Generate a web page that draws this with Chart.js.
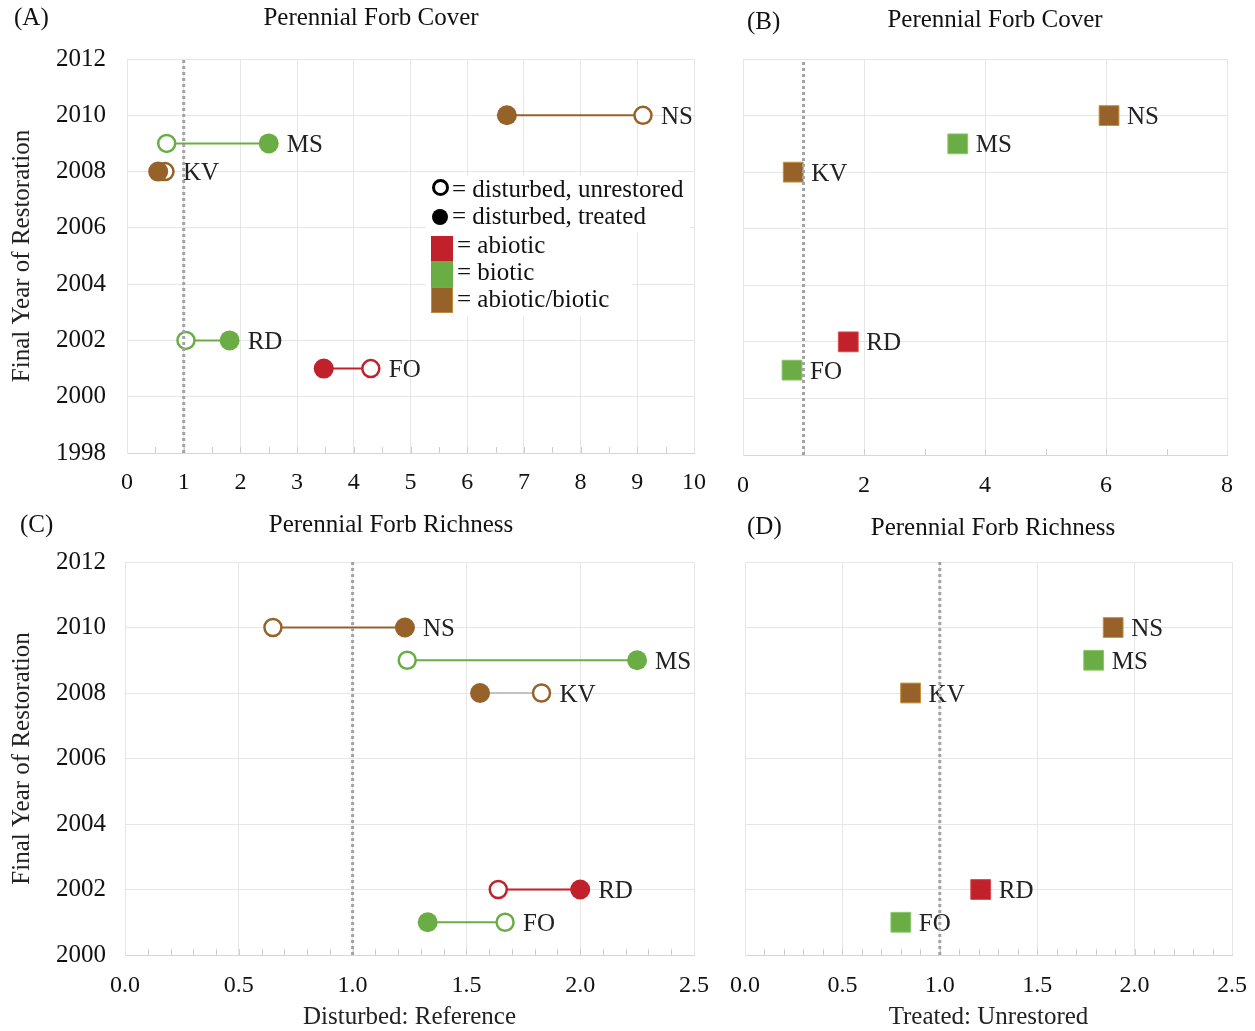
<!DOCTYPE html>
<html>
<head>
<meta charset="utf-8">
<script src="https://cdn.jsdelivr.net/npm/chart.js@4.4.1/dist/chart.umd.min.js"></script>
<style>
  body { margin: 0; background: #fff; }
  #wrap { position: relative; width: 1255px; height: 1031px; font-family: 'Liberation Serif', 'Times New Roman', serif; color: #111; overflow: hidden; }
  canvas { position: absolute; }
  .txt { position: absolute; white-space: nowrap; font-size: 25px; line-height: 26px; height: 26px; }
  .mid { transform: translateX(-50%); }
  .box { position: absolute; background: #fff; }
  .sym { position: absolute; box-sizing: border-box; }
  .leg { position: absolute; white-space: nowrap; font-size: 25px; line-height: 26px; height: 26px; }
</style>
</head>
<body>
<div id="wrap">
  <canvas id="chartA" width="720" height="500" style="left:0;top:0"></canvas>
  <canvas id="chartB" width="535" height="500" style="left:720px;top:0"></canvas>
  <canvas id="chartC" width="720" height="531" style="left:0;top:500px"></canvas>
  <canvas id="chartD" width="535" height="531" style="left:720px;top:500px"></canvas>

  <div class="txt" style="left:14px;top:4px">(A)</div>
  <div class="txt mid" style="left:371px;top:4px">Perennial Forb Cover</div>
  <div class="txt" style="left:747px;top:8px">(B)</div>
  <div class="txt mid" style="left:995px;top:6px">Perennial Forb Cover</div>
  <div class="txt" style="left:20px;top:511px">(C)</div>
  <div class="txt mid" style="left:391px;top:511px">Perennial Forb Richness</div>
  <div class="txt" style="left:747px;top:513px">(D)</div>
  <div class="txt mid" style="left:993px;top:514px">Perennial Forb Richness</div>

  <!-- legend of panel A -->
  <div class="box" style="left:426px;top:176px;width:264px;height:56px"></div>
  <div class="box" style="left:426px;top:232px;width:206px;height:84px"></div>
  <div class="sym" style="left:432px;top:179px;width:17px;height:17px;border:3px solid #000;border-radius:50%"></div>
  <div class="leg" style="left:452px;top:176px">= disturbed, unrestored</div>
  <div class="sym" style="left:432px;top:209px;width:16px;height:16px;background:#000;border-radius:50%"></div>
  <div class="leg" style="left:452px;top:203px">= disturbed, treated</div>
  <div class="sym" style="left:431px;top:236px;width:22px;height:25px;background:#c0212b"></div>
  <div class="leg" style="left:457px;top:232px">= abiotic</div>
  <div class="sym" style="left:431px;top:261px;width:22px;height:26px;background:#6aad45"></div>
  <div class="leg" style="left:457px;top:259px">= biotic</div>
  <div class="sym" style="left:431px;top:287px;width:22px;height:26px;background:#96622a;border:1px solid #c08a3a"></div>
  <div class="leg" style="left:457px;top:286px">= abiotic/biotic</div>
</div>

<script>
// sites and the final year of restoration used as the y position
const sites = ['NS', 'MS', 'KV', 'RD', 'FO'];
const siteYears = [2010, 2009, 2008, 2002, 2001];

// (A) perennial forb cover, disturbed : reference
const coverUnrestored = [9.1, 0.7, 0.67, 1.04, 4.3];
const coverTreated = [6.7, 2.5, 0.55, 1.81, 3.47];
const coverPairGroups = ['abiotic/biotic', 'biotic', 'abiotic/biotic', 'biotic', 'abiotic'];

// (B) perennial forb cover, treated : unrestored
const coverRatio = [6.05, 3.55, 0.83, 1.74, 0.81];
const coverRatioGroups = ['abiotic/biotic', 'biotic', 'abiotic/biotic', 'abiotic', 'biotic'];

// (C) perennial forb richness, disturbed : reference
const richUnrestored = [0.65, 1.24, 1.83, 1.64, 1.67];
const richTreated = [1.23, 2.25, 1.56, 2.0, 1.33];
const richPairGroups = ['abiotic/biotic', 'biotic', 'abiotic/biotic', 'abiotic', 'biotic'];

// (D) perennial forb richness, treated : unrestored
const richRatio = [1.89, 1.79, 0.85, 1.21, 0.8];
const richRatioGroups = ['abiotic/biotic', 'biotic', 'abiotic/biotic', 'abiotic', 'biotic'];

// axes
const yearTicksTop = [1998, 2000, 2002, 2004, 2006, 2008, 2010, 2012];
const yearTicksBottom = [2000, 2002, 2004, 2006, 2008, 2010, 2012];
const xTicksA = [0, 1, 2, 3, 4, 5, 6, 7, 8, 9, 10];
const xTicksB = [0, 2, 4, 6, 8];
const xTicksRich = [0, 0.5, 1, 1.5, 2, 2.5];
const parity = 1; // ratio of 1, dotted line

// styles
const FONT = "'Liberation Serif', 'Times New Roman', serif";
const groupColors = { 'abiotic': '#c0212b', 'biotic': '#6aad45', 'abiotic/biotic': '#96622a' };
const squareEdge = { 'abiotic': '#d8494f', 'biotic': '#8cc46a', 'abiotic/biotic': '#c89038' };
const connectorC = { KV: '#c2c2c2' };

Chart.defaults.font.family = FONT;
Chart.defaults.color = '#111';

const siteLabelPlugin = {
    id: 'siteLabels',
    beforeDatasetsDraw(chart) {
        const ctx = chart.ctx;
        ctx.save();
        ctx.font = '25px ' + FONT;
        ctx.fillStyle = '#222';
        ctx.textBaseline = 'middle';
        chart.data.datasets.forEach((ds, i) => {
            if (!ds.siteLabel) return;
            const pts = chart.getDatasetMeta(i).data;
            const right = pts.reduce((a, p) => (p.x > a.x ? p : a));
            ctx.fillText(ds.siteLabel, right.x + 18, right.y + 2);
        });
        ctx.restore();
    }
};

const minorTickPlugin = {
    id: 'minorTicks',
    beforeDatasetsDraw(chart, args, opts) {
        const xs = chart.scales.x;
        const bottom = chart.chartArea.bottom;
        const ctx = chart.ctx;
        const n = Math.round((xs.max - xs.min) / opts.step);
        ctx.save();
        ctx.strokeStyle = '#cfcfcf';
        ctx.lineWidth = 1;
        ctx.beginPath();
        for (let i = 1; i < n; i++) {
            const x = Math.round(xs.getPixelForValue(xs.min + i * opts.step)) + 0.5;
            ctx.moveTo(x, bottom);
            ctx.lineTo(x, bottom - 6);
        }
        ctx.stroke();
        ctx.restore();
    }
};

function pairDatasets(unrestored, treated, groups, lineOverride) {
    return sites.map((s, i) => {
        const c = groupColors[groups[i]];
        return {
            siteLabel: s,
            data: [{ x: unrestored[i], y: siteYears[i] }, { x: treated[i], y: siteYears[i] }],
            showLine: true,
            borderColor: (lineOverride && lineOverride[s]) || c,
            borderWidth: 2,
            pointRadius: [8.5, 10],
            pointBackgroundColor: ['#fff', c],
            pointBorderColor: c,
            pointBorderWidth: [2.5, 0],
            order: 1
        };
    });
}

function ratioDatasets(values, groups) {
    return sites.map((s, i) => ({
        siteLabel: s,
        data: [{ x: values[i], y: siteYears[i] }],
        pointStyle: 'rect',
        pointRadius: 14,
        pointBackgroundColor: groupColors[groups[i]],
        pointBorderColor: squareEdge[groups[i]],
        pointBorderWidth: 1,
        order: 1
    }));
}

function parityLine(years) {
    return {
        data: [{ x: parity, y: years[0] }, { x: parity, y: years[years.length - 1] }],
        showLine: true,
        borderColor: '#a3a3a3',
        borderWidth: 3,
        borderDash: [3, 3],
        pointRadius: 0,
        order: 0
    };
}

function makeChart(id, cfg) {
    const ctx = document.getElementById(id).getContext('2d');
    new Chart(ctx, {
        type: 'scatter',
        data: { datasets: [parityLine(cfg.years)].concat(cfg.datasets) },
        plugins: [siteLabelPlugin, minorTickPlugin],
        options: {
            responsive: false,
            animation: false,
            events: [],
            layout: { padding: { left: cfg.pl, right: cfg.pr, top: cfg.pt, bottom: 0 } },
            plugins: {
                legend: { display: false },
                tooltip: { enabled: false },
                minorTicks: { step: cfg.minorStep }
            },
            scales: {
                x: {
                    type: 'linear',
                    min: cfg.xTicks[0],
                    max: cfg.xTicks[cfg.xTicks.length - 1],
                    afterBuildTicks: s => { s.ticks = cfg.xTicks.map(v => ({ value: v })); },
                    afterFit: s => { s.height = cfg.xH; },
                    grid: { color: '#e6e6e6', drawTicks: true, tickLength: cfg.tickLen, tickColor: 'rgba(0,0,0,0)' },
                    border: { color: '#d6d6d6' },
                    ticks: {
                        padding: 2,
                        font: { size: 24 },
                        color: '#111',
                        maxRotation: 0,
                        callback: v => cfg.fmt(v)
                    },
                    title: {
                        display: !!cfg.xTitle,
                        text: cfg.xTitle,
                        font: { size: 25, lineHeight: 1 },
                        color: '#222',
                        padding: { top: 0, bottom: 1 }
                    }
                },
                y: {
                    type: 'linear',
                    min: cfg.years[0],
                    max: cfg.years[cfg.years.length - 1],
                    afterBuildTicks: s => { s.ticks = cfg.years.map(v => ({ value: v })); },
                    afterFit: s => { s.width = cfg.yW; },
                    grid: { color: '#e6e6e6', drawTicks: false },
                    border: { color: '#e6e6e6' },
                    ticks: {
                        display: cfg.yLabels,
                        padding: cfg.yPad || 0,
                        font: { size: 25 },
                        color: '#111',
                        callback: v => String(v)
                    },
                    title: {
                        display: cfg.yLabels,
                        text: 'Final Year of Restoration',
                        font: { size: 25, lineHeight: 1.2 },
                        color: '#222',
                        padding: { top: 7, bottom: 0 }
                    }
                }
            }
        }
    });
}

document.addEventListener('DOMContentLoaded', () => {
    makeChart('chartA', {
        years: yearTicksTop, xTicks: xTicksA, fmt: v => String(v), minorStep: 0.5, tickLen: 13,
        datasets: pairDatasets(coverUnrestored, coverTreated, coverPairGroups),
        pl: 0, yW: 127, pr: 26, pt: 59, xH: 47, yLabels: true, yPad: 21
    });
    makeChart('chartB', {
        years: yearTicksTop, xTicks: xTicksB, fmt: v => String(v), minorStep: 1, tickLen: 14,
        datasets: ratioDatasets(coverRatio, coverRatioGroups),
        pl: 23, yW: 0, pr: 28, pt: 59, xH: 45, yLabels: false
    });
    makeChart('chartC', {
        years: yearTicksBottom, xTicks: xTicksRich, fmt: v => v.toFixed(1), minorStep: 0.1, tickLen: 14,
        datasets: pairDatasets(richUnrestored, richTreated, richPairGroups, connectorC),
        pl: 0, yW: 125, pr: 26, pt: 62, xH: 76, yLabels: true, yPad: 19,
        xTitle: 'Disturbed: Reference'
    });
    makeChart('chartD', {
        years: yearTicksBottom, xTicks: xTicksRich, fmt: v => v.toFixed(1), minorStep: 0.1, tickLen: 14,
        datasets: ratioDatasets(richRatio, richRatioGroups),
        pl: 25, yW: 0, pr: 23, pt: 62, xH: 76, yLabels: false,
        xTitle: 'Treated: Unrestored'
    });
});
</script>
</body>
</html>
